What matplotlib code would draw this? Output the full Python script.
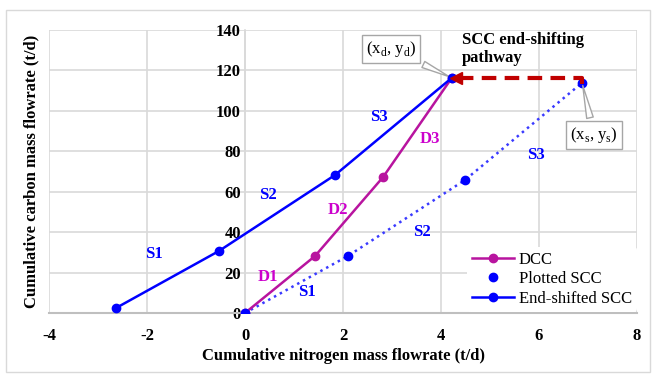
import numpy as np
import matplotlib.pyplot as plt
from matplotlib.patches import Rectangle

# data (t/d)
dcc_x = [0, 1.43, 2.82, 4.22]
dcc_y = [0, 28.2, 67.3, 116.3]
scc_x = [0, 2.10, 4.49, 6.88]
scc_y = [0, 28.2, 65.8, 113.9]
shift_x = [-2.63, -0.53, 1.84, 4.22]
shift_y = [2.5, 30.7, 68.3, 116.3]
path_x = [6.88, 6.88, 4.30]
path_y = [113.5, 116.5, 116.5]

x_ticks = [-4, -2, 0, 2, 4, 6, 8]
y_ticks = [0, 20, 40, 60, 80, 100, 120, 140]

seg_labels = [('S1', -1.85, 29, 'blue'), ('S2', 0.47, 58.5, 'blue'), ('S3', 2.73, 97, 'blue'),
              ('D1', 0.47, 18, '#CC00CC'), ('D2', 1.9, 51, '#CC00CC'), ('D3', 3.78, 86, '#CC00CC'),
              ('S1', 1.27, 10.5, 'blue'), ('S2', 3.61, 40, 'blue'), ('S3', 5.93, 78, 'blue')]

plt.rcParams['font.family'] = ['Liberation Serif', 'DejaVu Serif']
plt.rcParams['axes.unicode_minus'] = False

fig = plt.figure(figsize=(6.57, 3.80), dpi=100)
ax = fig.add_axes([49/657, 1-313/380, 588/657, 283/380])
fig.patches.append(Rectangle((6/657, 1-372/380), 644/657, 362/380, transform=fig.transFigure,
                             fill=False, ec='#d9d9d9', lw=1))

ax.set_xlim(-4, 8)
ax.set_ylim(0, 140)
ax.set_xticks(x_ticks)
ax.set_yticks(y_ticks)
ax.grid(True, color='#d9d9d9', lw=1.2)
ax.set_axisbelow(True)
for s in ['top', 'right']:
    ax.spines[s].set_visible(False)
ax.spines['left'].set_position(('data', 0))
ax.spines['left'].set_color('#d9d9d9')
ax.spines['left'].set_linewidth(1.2)
ax.spines['bottom'].set_color('#bfbfbf')
ax.spines['bottom'].set_linewidth(1.5)
ax.tick_params(length=0, labelsize=12)
ax.tick_params(axis='x', pad=11)
ax.tick_params(axis='y', pad=3)
for lab in ax.get_xticklabels() + ax.get_yticklabels():
    lab.set_fontweight('bold')

ax.plot(scc_x, scc_y, ':', color='#3a3aff', lw=1.8)
ax.plot(dcc_x, dcc_y, '-o', color='#B8149F', lw=1.8, ms=6, label='DCC', zorder=3)
ax.plot(scc_x, scc_y, 'o', color='blue', ms=6, label='Plotted SCC', zorder=3)
ax.plot(shift_x, shift_y, '-o', color='blue', lw=1.8, ms=6, label='End-shifted SCC', zorder=4)

ax.plot(path_x, path_y, '--', color='#C00000', lw=3, dashes=(3.5, 2), zorder=5)
ax.plot(path_x[-1], path_y[-1], '<', color='#C00000', ms=8, zorder=5)

for t, x, y, c in seg_labels:
    ax.text(x, y, t, color=c, fontsize=12, fontweight='bold', ha='center', va='center')

ax.text(4.43, 139, 'SCC end-shifting\npathway', fontsize=12, fontweight='bold',
        ha='left', va='top', clip_on=False, linespacing=1.15)

box = dict(boxstyle='square,pad=0.25', fc='white', ec='#a6a6a6', lw=1)
ax.annotate('(x$_\\mathregular{d}$, y$_\\mathregular{d}$)', xy=(4.22, 116.3), xytext=(2.98, 130.5),
            fontsize=12, ha='center', va='center', bbox=box, annotation_clip=False,
            arrowprops=dict(arrowstyle='wedge,tail_width=0.4', fc='white', ec='#a6a6a6', lw=1))
ax.annotate('(x$_\\mathregular{s}$, y$_\\mathregular{s}$)', xy=(6.88, 113.9), xytext=(7.12, 88),
            fontsize=12, ha='center', va='center', bbox=box,
            arrowprops=dict(arrowstyle='wedge,tail_width=0.4', fc='white', ec='#a6a6a6', lw=1))

ax.set_xlabel('Cumulative nitrogen mass flowrate (t/d)', fontsize=12, fontweight='bold', labelpad=3)
ax.set_ylabel('Cumulative carbon mass flowrate (t/d)', fontsize=12, fontweight='bold')
ax.yaxis.set_label_coords(-0.017, 0.5)

leg = ax.legend(loc='lower right', bbox_to_anchor=(1.0, 0.005), fontsize=12, frameon=True,
                facecolor='white', edgecolor='none', framealpha=1, handlelength=2.5,
                borderpad=0.3, labelspacing=0.2, handletextpad=0.3, borderaxespad=0)

fig.savefig('out.png', dpi=100)
